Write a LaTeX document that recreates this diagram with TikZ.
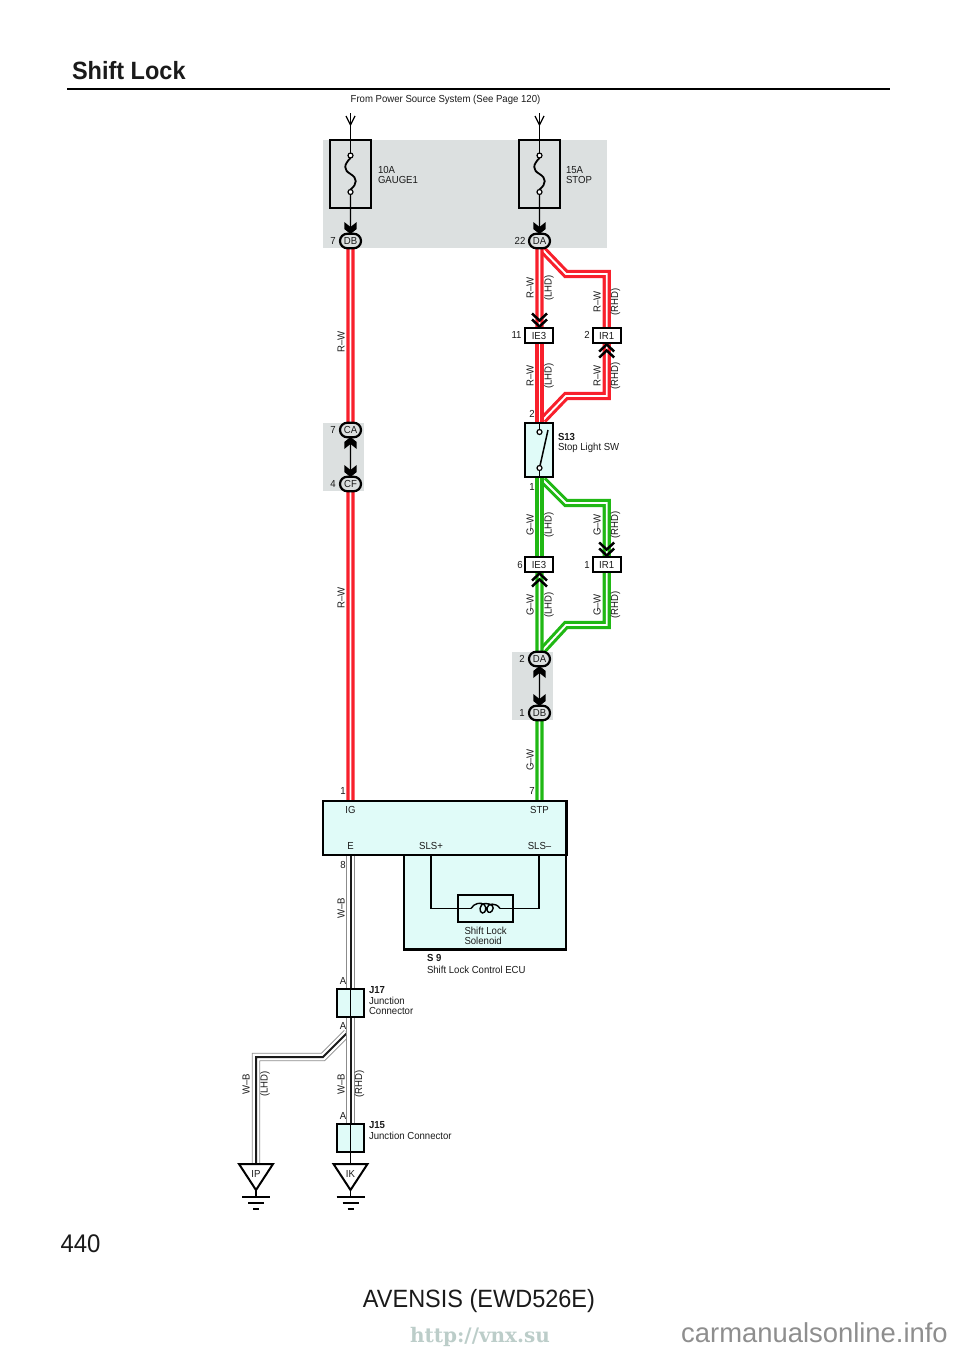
\documentclass[tikz,border=0pt]{standalone}
\usepackage{fontspec}
\setmainfont{Liberation Sans}[FakeStretch=0.94]
\newfontfamily\plainsans{Liberation Sans}
\newfontfamily\wmfont{DejaVu Serif}
\usetikzlibrary{shapes.misc}
\pgfdeclarelayer{back}\pgfdeclarelayer{wires}
\pgfsetlayers{back,wires,main}
\definecolor{panelgray}{HTML}{DCE0E0}
\definecolor{partcyan}{HTML}{E0FBF8}
\definecolor{wirered}{HTML}{F8202C}
\definecolor{wiregreen}{HTML}{20B814}
\definecolor{ink}{HTML}{1A1A1A}
\definecolor{wmgreen}{HTML}{BCCDC9}
\definecolor{wmgray}{HTML}{8E8E8E}
\tikzset{
 x=1pt,y=-1pt,
 every node/.style={inner sep=0pt,outer sep=0pt,text=ink},
 txt/.style={font=\fontsize{10.2}{10.5}\selectfont},
 num/.style={txt,anchor=center},
 lft/.style={txt,anchor=west},
 bld/.style={anchor=west,font=\fontsize{10.2}{10.5}\selectfont\bfseries},
 vert/.style={txt,rotate=90,anchor=center},
 oval/.style={rounded rectangle,draw=black,line width=2.2,fill=panelgray,minimum width=21,minimum height=14.5,txt},
 tag/.style={rectangle,draw=black,line width=2.2,fill=white,minimum width=28,minimum height=15,txt},
 fusebox/.style={rectangle,draw=black,line width=2.4,minimum width=41,minimum height=68},
 partbox/.style={rectangle,draw=black,line width=2.4,fill=partcyan},
 terminal/.style={circle,draw=black,line width=1.2,fill=white,minimum size=5},
 redwire/.style={draw=wirered,double=white,double distance=1.9,line width=3.1,line join=miter},
 greenwire/.style={draw=wiregreen,double=white,double distance=1.9,line width=3.1,line join=miter},
 blackwire/.style={draw=ink,line width=2,line join=miter,
   preaction={draw=black!45,line width=8.2},preaction={draw=white,line width=6.6}},
 thinline/.style={draw=black,line width=1.3},
 chevs/.pic={\draw[black,line width=2.5,miter limit=10] (-7.5,-8)--(0,-1)--(7.5,-8) (-7.5,-14)--(0,-7)--(7.5,-14);},
 dart/.pic={\fill[black] (0,0)--(-6.2,-5)--(-6.2,-12)--(0,-7)--(6.2,-12)--(6.2,-5)--cycle;},
 arrowv/.pic={\draw[black,line width=1.2] (-4.5,-9)--(0,0)--(4.5,-9);},
 earth/.pic={\draw[black,line width=1.1] (0,0)--(0,7) (-14,7)--(14,7) (-8,13)--(8,13) (-3,19)--(3,19);},
}
\begin{document}
\begin{tikzpicture}
\useasboundingbox (0,0) rectangle (960,1349);
% titles
\node[anchor=west,font=\fontsize{25}{27}\selectfont\bfseries] (title) at (72,71) {Shift Lock};
\coordinate (ruleL) at (67,89); \coordinate (ruleR) at (890,89);
\draw[black,line width=2.8] (ruleL)--(ruleR);
\node[txt,anchor=center] (frm) at (445.5,99.5) {From Power Source System (See Page 120)};
\node[anchor=west,font=\fontsize{25.5}{27}\selectfont] (pg) at (60.5,1244) {440};
\node[anchor=center,font=\fontsize{25}{27}\selectfont] (model) at (479,1301) {AVENSIS (EWD526E)};
\node[anchor=center,font=\fontsize{20}{22}\selectfont\wmfont\bfseries,text=wmgreen] (wm1) at (480,1337) {http://vnx.su};
\node[anchor=center,font=\fontsize{27.4}{29}\selectfont\plainsans,text=wmgray] (wm2) at (814.5,1333) {carmanualsonline.info};
% panels
\begin{pgfonlayer}{back}
\fill[panelgray] (323,140) rectangle (607,248);
\fill[panelgray] (323,423) rectangle (364,491);
\fill[panelgray] (512,652) rectangle (553,720);
\end{pgfonlayer}
% fuses
\node[fusebox] (f1) at (350.5,174) {};
\node[fusebox] (f2) at (539.5,174) {};
\node[lft] (f1a) at (378,170) {10A};
\node[lft] (f1b) at (378,179.5) {GAUGE1};
\node[lft] (f2a) at (566,170) {15A};
\node[lft] (f2b) at (566,179.5) {STOP};
\foreach \n/\x in {a/350.5,b/539.5}{
 \coordinate (in\n) at (\x,113);
 \node[terminal] (t\n) at (\x,155.5) {};
 \node[terminal] (u\n) at (\x,192) {};
 \draw[thinline] (in\n)--(t\n);
 \draw[black,line width=1.8] (t\n.south) .. controls (\x-7,165) and (\x-7,170) .. (\x,174) .. controls (\x+7,178) and (\x+7,184) .. (u\n.north);
 \pic at (\x,125) {arrowv};
 \pic at (\x,234) {dart};
}
% connectors
\node[oval] (db) at (350.5,241) {DB};
\node[oval] (da) at (539.5,241) {DA};
\draw[thinline] (ua)--(db);
\draw[thinline] (ub)--(da);
\node[num] (n7) at (333,241) {7};
\node[num] (n22) at (520,241) {22};
\node[oval] (ca) at (350.5,430) {CA};
\node[oval] (cf) at (350.5,484) {CF};
\node[num] (n7b) at (333,430) {7};
\node[num] (n4) at (333,484) {4};
\draw[thinline] (ca)--(cf);
\pic[yscale=-1] at (350.5,437) {dart};
\pic at (350.5,477) {dart};
\node[oval] (da2) at (539.5,659) {DA};
\node[oval] (db2) at (539.5,713) {DB};
\node[num] (n2c) at (522,659) {2};
\node[num] (n1c) at (522,713) {1};
\draw[thinline] (da2)--(db2);
\pic[yscale=-1] at (539.5,666) {dart};
\pic at (539.5,706) {dart};
\node[tag] (ie3a) at (539,335.5) {IE3};
\node[tag] (ir1a) at (606.7,335.5) {IR1};
\node[tag] (ie3b) at (539,564.5) {IE3};
\node[tag] (ir1b) at (606.7,564.5) {IR1};
\node[num] (n11) at (516.5,335) {11};
\node[num] (n2a) at (587,335) {2};
\node[num] (n6) at (520,565) {6};
\node[num] (n1a) at (587,565) {1};
\pic at (539.5,327.5) {chevs};
\pic[yscale=-1] at (606.7,343.5) {chevs};
\pic[yscale=-1] at (539.5,572.5) {chevs};
\pic at (606.7,556.5) {chevs};
% switch
\node[partbox,minimum width=28,minimum height=54] (sw) at (539,450) {};
\node[terminal] (s1) at (539.5,432) {};
\node[terminal] (s2) at (539.5,468) {};
\coordinate (sblade) at (548,430);
\draw[black,line width=1.5] (s2)--(sblade);
\draw[thinline] (sw.north -| s1)--(s1);
\draw[thinline] (sw.south -| s2)--(s2);
\node[bld] (s13) at (558,436.5) {S13};
\node[lft] (s13b) at (558,448) {Stop Light SW};
\node[num] (n2b) at (532,414) {2};
\node[num] (n1b) at (532,487) {1};
% ECU
\node[partbox,minimum width=162,minimum height=95] (ecub) at (485.25,902) {};
\node[partbox,minimum width=243.5,minimum height=54] (ecu) at (444.75,828) {};
\node[txt] (pIG) at (350.5,810) {IG};
\node[txt] (pSTP) at (539.5,810) {STP};
\node[txt] (pE) at (350.5,846) {E};
\node[txt] (pP) at (431,846) {SLS+};
\node[txt] (pM) at (539.5,846) {SLS--};
\node[partbox,minimum width=55,minimum height=27] (sol) at (485.5,908.5) {};
\coordinate (slsP) at (431,855); \coordinate (slsM) at (539,855);
\coordinate (c1) at (471,908.5); \coordinate (c2) at (500,908.5);
\draw[black,line width=1.2] (slsP)--(431,908.5)--(c1);
\draw[black,line width=1.2] (slsM)--(539,908.5)--(c2);
\draw[black,line width=1.4] (c1) .. controls (474,903) and (481,902) .. (484,904.5)
  .. controls (487,907) and (486,913) .. (482.5,913) .. controls (479,913) and (478.5,903.5) .. (485.5,903.5)
  .. controls (492,903.5) and (495,907) .. (492,911) .. controls (489.5,914) and (486.5,912) .. (487,908)
  .. controls (487.5,903.5) and (496,902) .. (c2);
\node[lft] (so1) at (464.5,931) {Shift Lock};
\node[lft] (so2) at (464.5,941) {Solenoid};
\node[bld] (s9) at (427,958) {S 9};
\node[lft] (s9b) at (427,969.5) {Shift Lock Control ECU};
\node[num] (n1d) at (343,791) {1};
\node[num] (n7d) at (532,791) {7};
\node[num] (n8) at (343,865) {8};
% junctions
\node[partbox,minimum width=27,minimum height=28] (j17) at (350.5,1003) {};
\node[partbox,minimum width=27,minimum height=28] (j15) at (350.5,1138) {};
\draw[thinline] (j17.north)--(j17.south);
\draw[thinline] (j15.north)--(j15.south);
\node[bld] (j17a) at (369,990) {J17};
\node[lft] (j17b) at (369,1001) {Junction};
\node[lft] (j17c) at (369,1011) {Connector};
\node[bld] (j15a) at (369,1125) {J15};
\node[lft] (j15b) at (369,1136) {Junction Connector};
\node[num] (a1) at (343,981) {A};
\node[num] (a2) at (343,1026) {A};
\node[num] (a3) at (343,1115.5) {A};
% grounds
\node[txt] (ipc) at (256,1174) {IP};
\node[txt] (ikc) at (350.5,1174) {IK};
\coordinate (ipT) at (256,1164); \coordinate (ikT) at (350.5,1164);
\foreach \x in {256,350.5}{
 \draw[black,line width=2,line join=miter] (\x-17,1164)--(\x+17,1164)--(\x,1190)--cycle;
 \pic at (\x,1190) {earth};
}
\draw[thinline] (j15.south)--(ikT);
% wire labels
\foreach \nm/\x/\y/\t in {
 a/341/342/R--W, b/341/598/R--W, c/530/288/R--W, d/549/288/(LHD), e/597/302/R--W, f/615.5/302/(RHD),
 g/530/376/R--W, h/549/376/(LHD), i/597/376/R--W, j/615.5/376/(RHD),
 k/530/525/G--W, l/549/525/(LHD), m/597/525/G--W, n/615.5/525/(RHD),
 o/530/605/G--W, p/549/605/(LHD), q/597/605/G--W, r/615.5/605/(RHD), s/530/760/G--W,
 t/341/908/W--B, u/246/1084/W--B, v/265/1084/(LHD), w/341/1084/W--B, x/359.5/1084/(RHD)}{
 \node[vert] (lab\nm) at (\x,\y) {\t};
}
% wires
\coordinate (ecuIG) at (350.5,801); \coordinate (ecuST) at (539.5,801);
\coordinate (ecuE) at (350.5,855);
\coordinate (br1) at (543,250); \coordinate (br1a) at (566,274); \coordinate (br1b) at (606.7,274);
\coordinate (br2) at (543,420); \coordinate (br2a) at (566,396); \coordinate (br2b) at (606.7,396);
\coordinate (br3) at (543,480); \coordinate (br3a) at (566,503); \coordinate (br3b) at (606.7,503);
\coordinate (br4) at (543,650); \coordinate (br4a) at (566,625); \coordinate (br4b) at (606.7,625);
\coordinate (brw) at (347,1033); \coordinate (brwa) at (323,1057); \coordinate (brwb) at (256,1057);
\begin{pgfonlayer}{wires}
\draw[redwire] (db)--(ca);
\draw[redwire] (cf)--(ecuIG);
\draw[redwire] (br1)--(br1a)--(br1b)--(ir1a);
\draw[redwire] (ir1a)--(br2b)--(br2a)--(br2);
\draw[redwire] (da)--(da|-ie3a.north);
\draw[redwire] (da|-ie3a.south)--(da|-sw.north);
\draw[greenwire] (br3)--(br3a)--(br3b)--(ir1b);
\draw[greenwire] (ir1b)--(br4b)--(br4a)--(br4);
\draw[greenwire] (da|-sw.south)--(da|-ie3b.north);
\draw[greenwire] (da|-ie3b.south)--(da2);
\draw[greenwire] (db2)--(ecuST);
\draw[blackwire] (brw)--(brwa)--(brwb)--(ipT);
\draw[blackwire] (ecuE)--(j17.north);
\draw[blackwire] (j17.south)--(j15.north);
\end{pgfonlayer}
\end{tikzpicture}
\end{document}
